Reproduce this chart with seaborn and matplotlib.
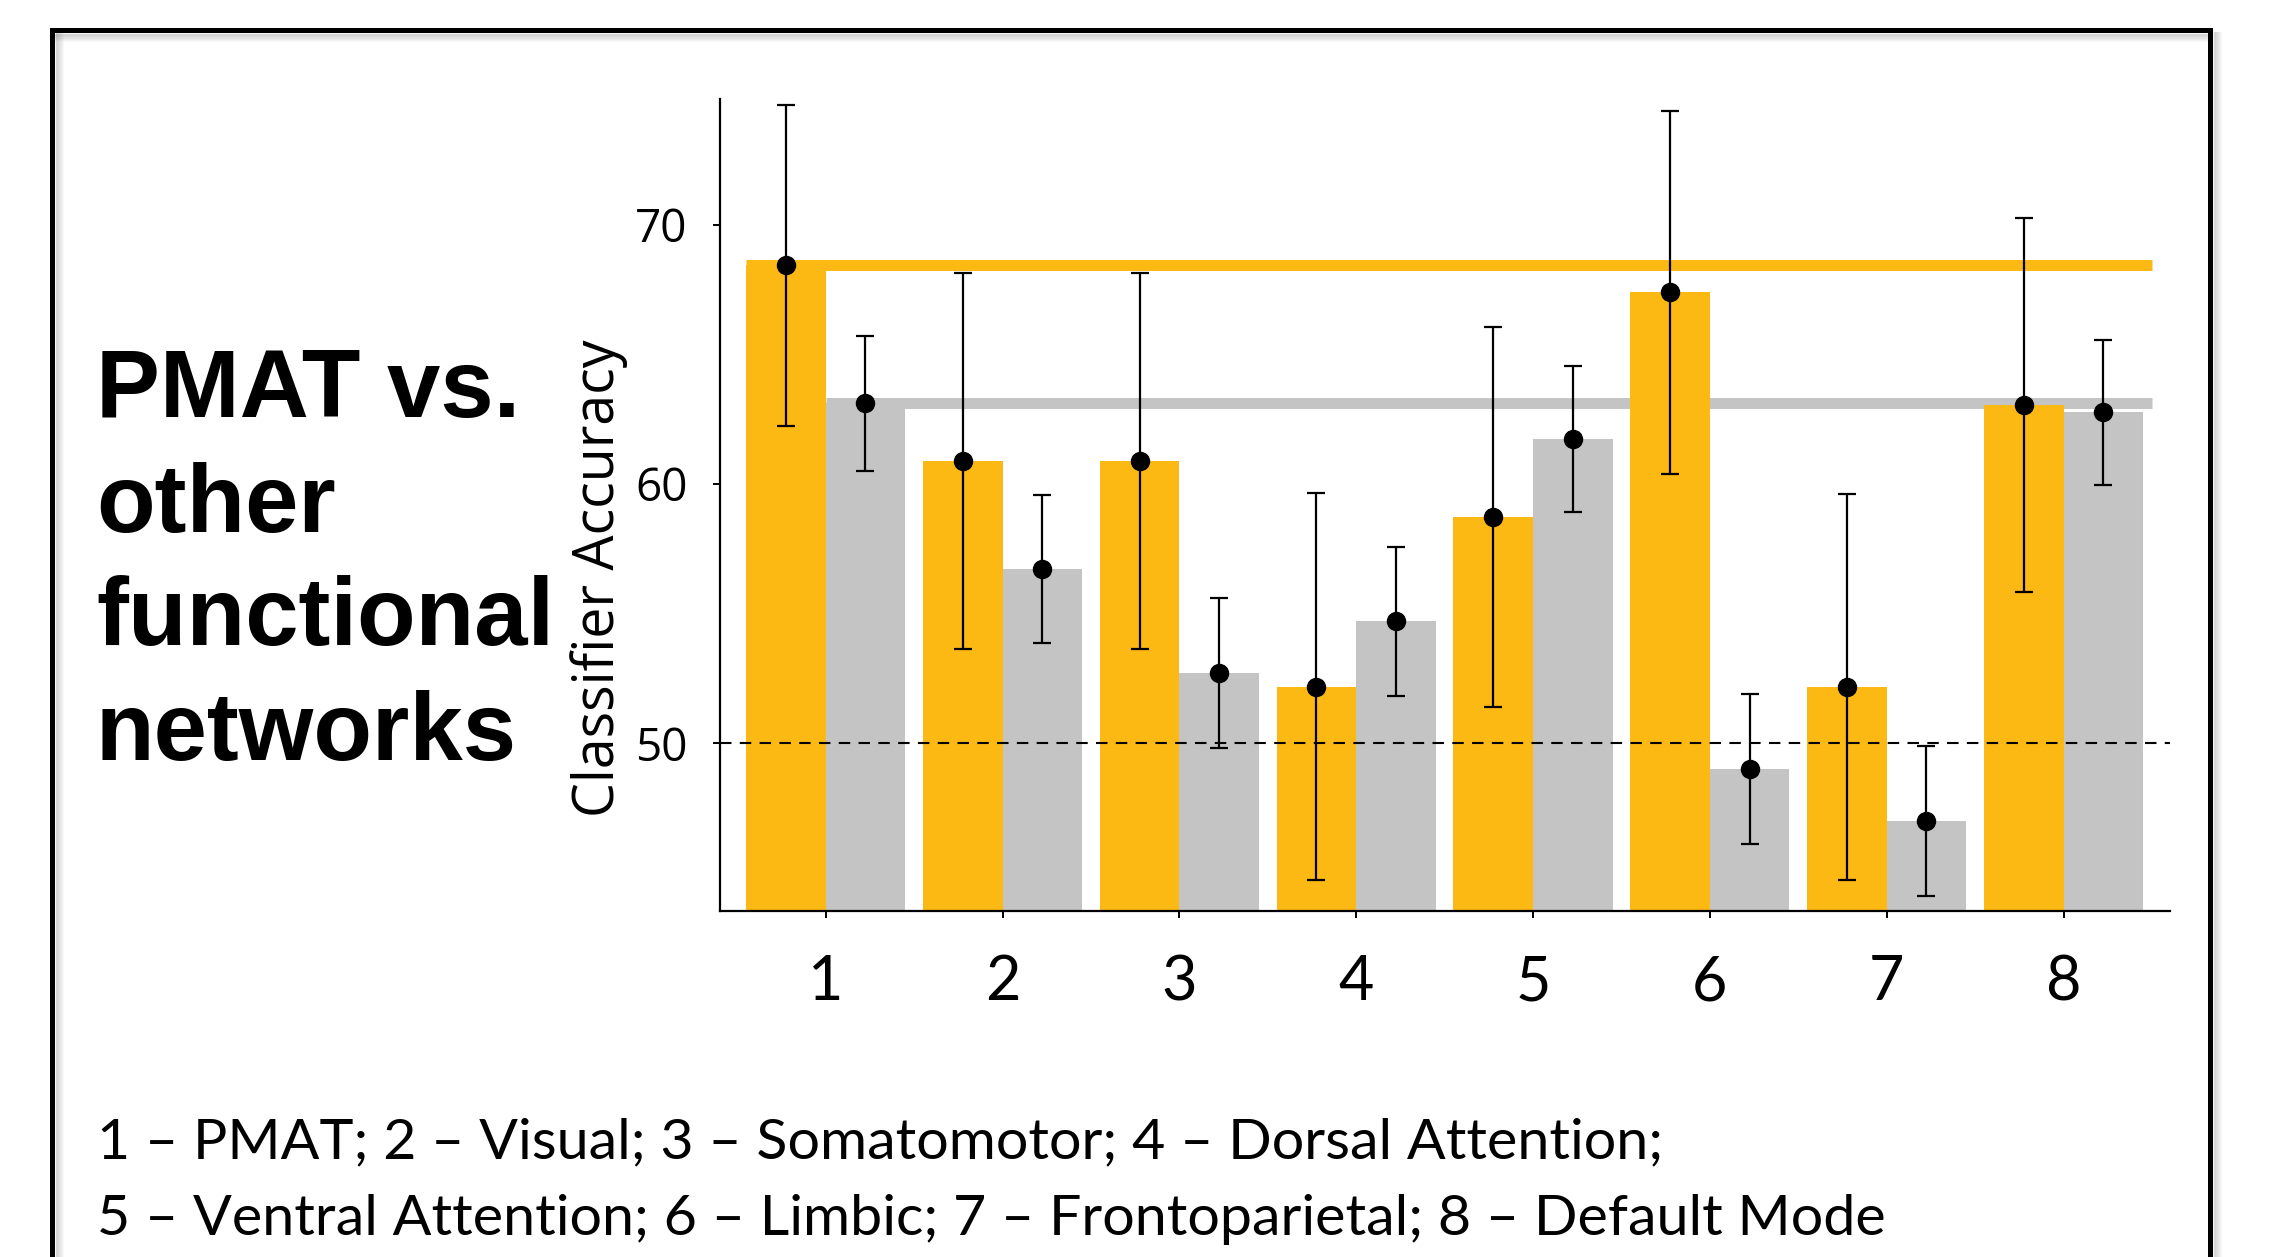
import pandas as pd
import seaborn as sns
from matplotlib import pyplot as plt
from matplotlib.patches import Rectangle

networks = ['1', '2', '3', '4', '5', '6', '7', '8']
groups = ['network', 'baseline']
acc_network = [68.43, 60.87, 60.87, 52.17, 58.70, 67.38, 52.17, 63.04]
err_network = [6.2, 7.25, 7.25, 7.46, 7.33, 7.0, 7.45, 7.2]
acc_baseline = [63.11, 56.71, 52.70, 54.70, 61.74, 49.0, 46.99, 62.75]
err_baseline = [2.6, 2.87, 2.9, 2.88, 2.82, 2.9, 2.88, 2.8]
chance = 50
yticks = [50, 60, 70]

title_lines = ['PMAT vs.', 'other', 'functional', 'networks']
key_lines = ['1 \u2013 PMAT; 2 \u2013 Visual; 3 \u2013 Somatomotor; 4 \u2013 Dorsal Attention;',
             '5 \u2013 Ventral Attention; 6 \u2013 Limbic; 7 \u2013 Frontoparietal; 8 \u2013 Default Mode']

orange = '#FDB913'
grey = '#C4C4C4'

df = pd.DataFrame({
    'network': networks * 2,
    'group': [groups[0]] * len(networks) + [groups[1]] * len(networks),
    'acc': acc_network + acc_baseline,
})

sns.set_style('white')
plt.rcParams['font.family'] = ['Open Sans', 'DejaVu Sans']
plt.rcParams['text.color'] = 'black'
plt.rcParams['axes.labelcolor'] = 'black'

W, H = 2279, 1257
fig = plt.figure(figsize=(W / 100, H / 100), dpi=100)
ax = fig.add_axes([719.6 / W, 1 - 911 / H, (2169.6 - 719.6) / W, (911 - 98.8) / H])

sns.barplot(data=df, x='network', y='acc', hue='group', order=networks, hue_order=groups,
            palette=[orange, grey], width=0.9, saturation=1, errorbar=None,
            legend=False, ax=ax, zorder=2, linewidth=0, edgecolor='none')

# reference lines at the level of the first network (PMAT), drawn behind the bars
n = len(networks)
for cont, colour in zip(ax.containers, [orange, grey]):
    first = cont.patches[0]
    ax.hlines(first.get_height(), first.get_x(), n - 0.5, colors=colour,
              linewidth=7.9, zorder=1, capstyle='butt')

ax.axhline(chance, color='black', linewidth=1.5, linestyle=(0, (5.5, 4)), zorder=3)

for cont, vals, errs in zip(ax.containers, [acc_network, acc_baseline], [err_network, err_baseline]):
    xs = [p.get_x() + p.get_width() / 2 for p in cont.patches]
    ax.errorbar(xs, vals, yerr=errs, fmt='o', color='black', markersize=13,
                elinewidth=1.6, capsize=6.5, capthick=1.6, zorder=4)

ax.set_xlim(-0.6, n - 0.4)
ax.set_ylim(43.52, 74.85)
ax.set_yticks(yticks)
ax.set_xlabel('')
ax.set_ylabel('Classifier Accuracy', fontsize=40, color='black',
              family=['Open Sans', 'DejaVu Sans'])
ax.yaxis.set_label_coords(-0.063, 0.41)

sns.despine(ax=ax)
for s in ['left', 'bottom']:
    ax.spines[s].set_linewidth(1.6)
    ax.spines[s].set_color('black')
ax.tick_params(axis='y', which='both', left=True, length=5, width=1.4, pad=18,
               labelsize=33, colors='black')
ax.tick_params(axis='x', which='both', bottom=True, length=5, width=1.4, pad=26,
               labelsize=44, colors='black')
for lab in ax.get_xticklabels():
    lab.set_family(['Lato', 'DejaVu Sans'])

# left title
for line, base in zip(title_lines, [417, 532, 645, 760]):
    fig.text(96 / W, 1 - base / H, line, fontsize=69, fontweight='bold', color='black',
             family=['Liberation Sans', 'DejaVu Sans'], va='baseline', ha='left')

# network key
for line, base in zip(key_lines, [1158, 1235]):
    fig.text(97 / W, 1 - base / H, line, fontsize=41.3, color='black',
             family=['Lato', 'DejaVu Sans'], va='baseline', ha='left')

# slide frame with soft shadow
for i in range(8):
    a = 0.28 * (1 - i / 8)
    fig.add_artist(plt.Line2D([(2214 + i) / W] * 2, [-0.1, 1 - 32 / H], color='grey',
                              alpha=a, linewidth=1, transform=fig.transFigure))
    fig.add_artist(plt.Line2D([(56 + i) / W] * 2, [-0.1, 1 - 33 / H], color='grey',
                              alpha=a, linewidth=1, transform=fig.transFigure))
    fig.add_artist(plt.Line2D([55 / W, 2207 / W], [1 - (34 + i) / H] * 2, color='grey',
                              alpha=a, linewidth=1, transform=fig.transFigure))
fig.add_artist(Rectangle((51.5 / W, -0.1), (2209.5 - 51.5) / W, 1.1 - 29.5 / H,
                         transform=fig.transFigure, fill=False, edgecolor='black',
                         linewidth=3.6))

fig.savefig('out.png', dpi=100)
